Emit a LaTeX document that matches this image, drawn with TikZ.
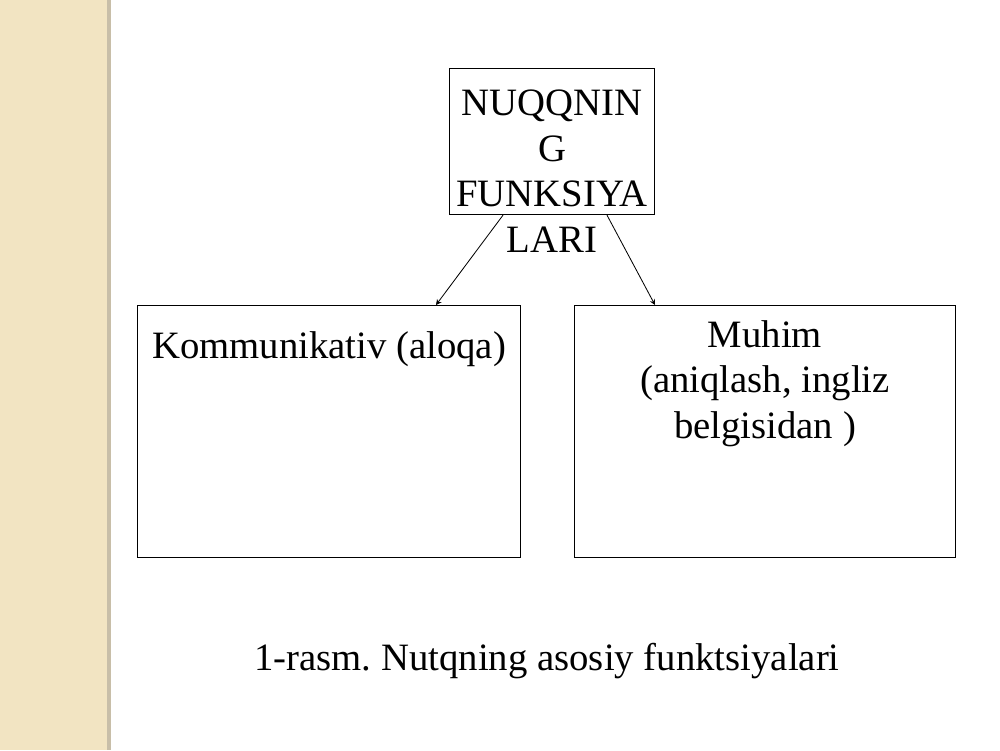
\documentclass[tikz,border=0pt]{standalone}
\usepackage{fontspec}
\setmainfont{Liberation Serif}
\usetikzlibrary{positioning,arrows.meta}
\frenchspacing

\definecolor{stripfill}{RGB}{242,228,194}
\definecolor{stripedge}{RGB}{200,190,168}

\begin{document}
\begin{tikzpicture}[
  x=0.0254cm, y=-0.0254cm,
  box/.style={rectangle, draw=black, line width=0.7pt, inner sep=0pt},
  txt/.style={font=\fontsize{28}{33}\selectfont, align=center, inner sep=0pt},
  arrow/.style={-{Stealth[length=4pt,width=4pt]}, line width=0.6pt}
]
\useasboundingbox (0,0) rectangle (1000,750);

% Side strip
\fill[stripfill] (0,0) rectangle (107,750);
\fill[stripedge] (107,0) rectangle (111,750);

% Top box
\node[box, minimum width=148.3pt, minimum height=105.8pt] (top) at (552,141.5) {};
\node[txt] (toptext) at (552,171) {NUQQNIN\\G\\FUNKSIYA\\LARI};

% Lower boxes
\node[box, minimum width=276.5pt, minimum height=182.2pt] (left) at (329,431.5) {};
\node[txt, anchor=base] (lefttext) at (329,358) {Kommunikativ (aloqa)};

\node[box, minimum width=275pt, minimum height=182.2pt] (right) at (765,431.5) {};
\node[txt] (righttext) at (765,383.5) {Muhim\\(aniqlash, ingliz\\belgisidan )};

% Arrows
\draw[arrow] (top.south -| 503,0) -- (left.north -| 436,0);
\draw[arrow] (top.south -| 607,0) -- (right.north -| 655,0);

% Caption
\node[txt, anchor=base] (caption) at (547,670) {1-rasm. Nutqning asosiy funktsiyalari};

\end{tikzpicture}
\end{document}
